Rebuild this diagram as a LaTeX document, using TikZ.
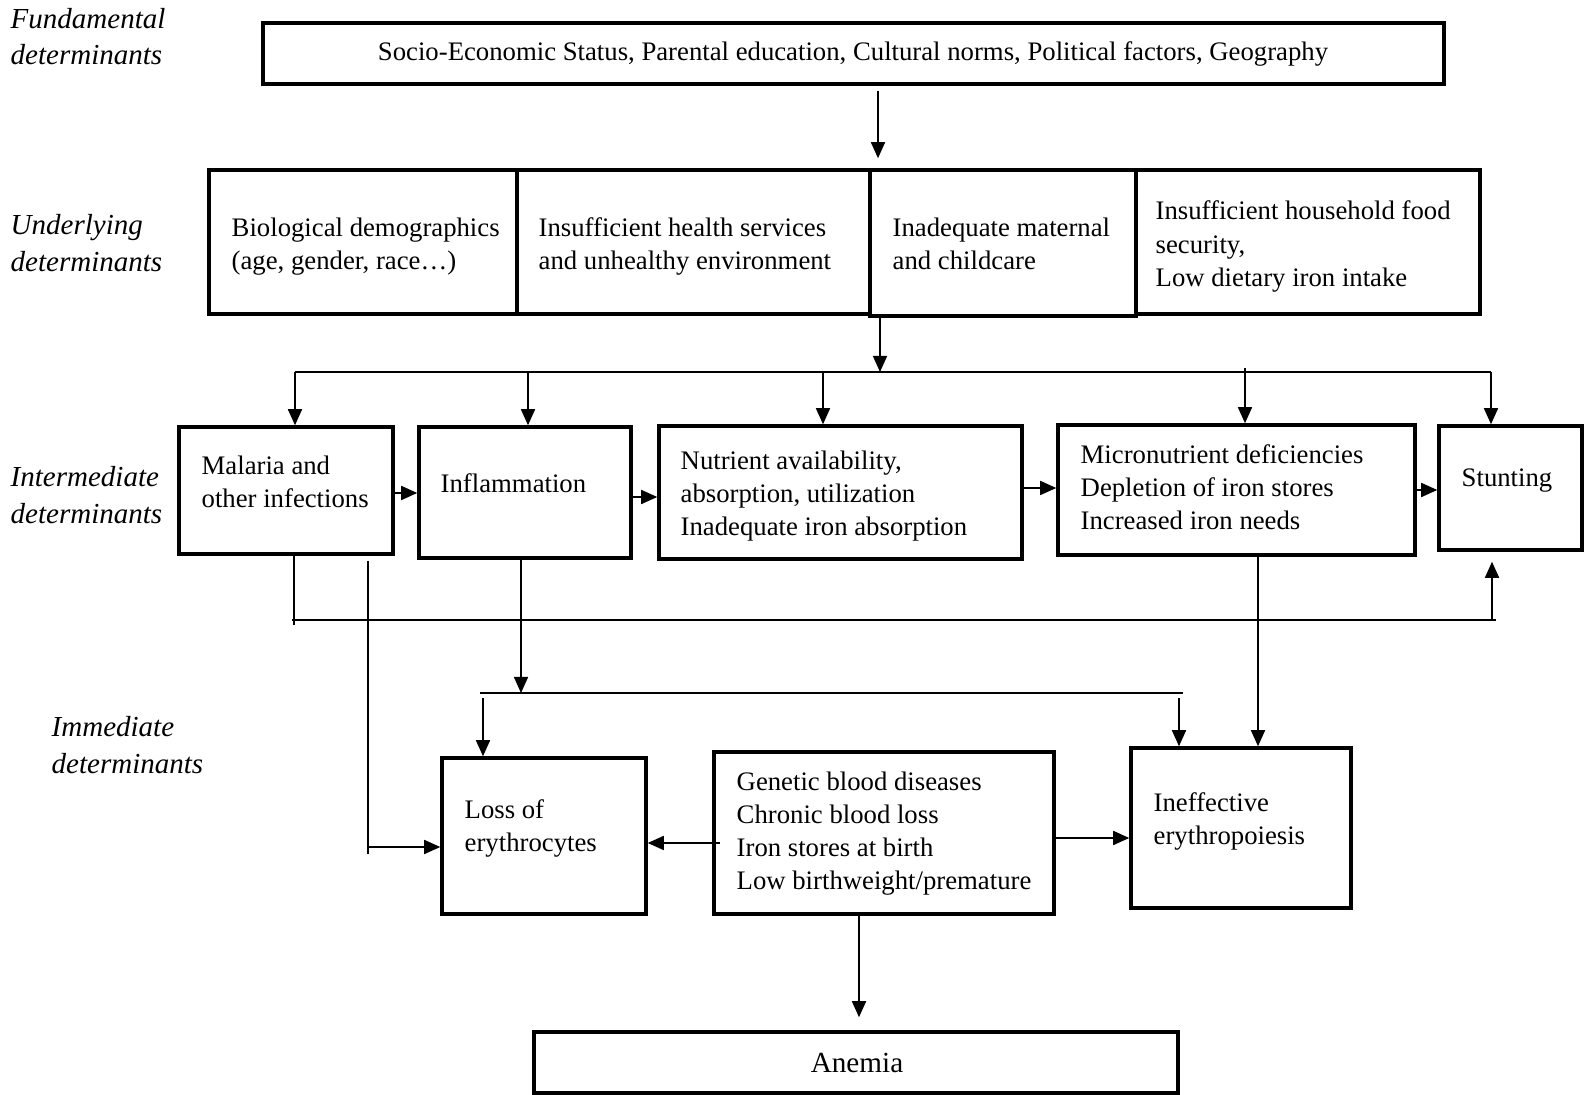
\documentclass[tikz,border=0pt]{standalone}
\usepackage{fontspec}
\setmainfont{Liberation Serif}
\usetikzlibrary{arrows.meta,fit,calc}
\begin{document}
\begin{tikzpicture}[x=0.01cm,y=-0.01cm,
  box/.style={draw, line width=1pt, inner sep=0pt},
  txt/.style={inner sep=0pt, anchor=west, align=left, font=\fontsize{7.6pt}{9.39pt}\selectfont},
  lab/.style={inner sep=0pt, anchor=west, align=left, font=\fontsize{8.25pt}{10.4pt}\selectfont\itshape},
  conn/.style={line width=0.45pt},
  arr/.style={conn, -{Triangle[length=0.16cm,width=0.14cm]}}]
\fill[white] (0,0) rectangle (1590,1095);
\useasboundingbox (0,0) rectangle (1590,1095);

% level labels
\node[lab] (lfund) at (10,36.5) {Fundamental\\determinants};
\node[lab] (lund) at (10,243) {Underlying\\determinants};
\node[lab] (lint) at (10,495) {Intermediate\\determinants};
\node[lab] (limm) at (51,745) {Immediate\\determinants};

% boxes
\node[box, fit={(263,23) (1444,84)}] (fund) {};
\node[box, fit={(209,170) (517,314)}] (und1) {};
\node[box, fit={(517,170) (870,314)}] (und2) {};
\node[box, fit={(870,170) (1136,316)}] (und3) {};
\node[box, fit={(1136,170) (1480,314)}] (und4) {};
\node[box, fit={(179,427) (393,554)}] (mal) {};
\node[box, fit={(419,427) (631,558)}] (inf) {};
\node[box, fit={(659,426) (1022,559)}] (nut) {};
\node[box, fit={(1058,425) (1415,555)}] (mic) {};
\node[box, fit={(1439,426) (1582,550)}] (stu) {};
\node[box, fit={(442,758) (646,914)}] (loss) {};
\node[box, fit={(714,752) (1054,914)}] (gen) {};
\node[box, fit={(1131,748) (1351,908)}] (ineff) {};
\node[box, fit={(534,1032) (1178,1093)}] (anem) {};

% texts
\node[txt, anchor=center] (tfund) at (853,54) {Socio-Economic Status, Parental education, Cultural norms, Political factors, Geography};
\node[txt] (tund1) at (231,246.5) {Biological demographics\\(age, gender, race…)};
\node[txt] (tund2) at (538,246.5) {Insufficient health services\\and unhealthy environment};
\node[txt] (tund3) at (892,243.5) {Inadequate maternal\\and childcare};
\node[txt] (tund4) at (1155,246.5) {Insufficient household food\\security,\\Low dietary iron intake};
\node[txt] (tmal) at (201,481.5) {Malaria and\\other infections};
\node[txt] (tinf) at (440,483) {Inflammation};
\node[txt] (tnut) at (680,496) {Nutrient availability,\\absorption, utilization\\Inadequate iron absorption};
\node[txt] (tmic) at (1080,487) {Micronutrient deficiencies\\Depletion of iron stores\\Increased iron needs};
\node[txt] (tstu) at (1461,481) {Stunting};
\node[txt] (tloss) at (464,828) {Loss of\\erythrocytes};
\node[txt] (tgen) at (736,834) {Genetic blood diseases\\Chronic blood loss\\Iron stores at birth\\Low birthweight/premature};
\node[txt] (tineff) at (1153,821) {Ineffective\\erythropoiesis};
\node[txt, anchor=center, font=\fontsize{8.3pt}{10pt}\selectfont] (tanem) at (857,1063) {Anemia};

% helper coordinates
\coordinate (c878) at (878,0);
\coordinate (b1c) at (880,372);
\coordinate (b1l) at (295,372);
\coordinate (b1r) at (1491,372);
\coordinate (b1b) at (528,372);
\coordinate (b1n) at (823,372);
\coordinate (b1m) at (1245,368);
\coordinate (l1) at (294,625);
\coordinate (l2) at (292,620);
\coordinate (l3) at (1496,620);
\coordinate (l4) at (1492,620);
\coordinate (m1) at (368,854);
\coordinate (m2) at (368,847);
\coordinate (b2i) at (521,693);
\coordinate (b2l) at (480,693);
\coordinate (b2r) at (1183,693);
\coordinate (d1) at (483,698);
\coordinate (d2) at (1179,698);
\coordinate (c1258) at (1258,0);
\coordinate (g1) at (720,843);
\coordinate (g2) at (1054,838);
\coordinate (g3) at (859,0);

% connectors
\draw[arr, shorten >=0.1cm] ([yshift=-0.05cm]fund.south -| c878) -- (und3.north -| c878);
\draw[arr] (und3.south -| b1c) -- (b1c);
\draw[conn] (b1l) -- (b1r);
\draw[arr] (b1l) -- (mal.north -| b1l);
\draw[arr] (b1b) -- (inf.north -| b1b);
\draw[arr] (b1n) -- (nut.north -| b1n);
\draw[arr] (b1m) -- (mic.north -| b1m);
\draw[arr] (b1r) -- (stu.north -| b1r);

\draw[arr] ([yshift=-0.025cm]mal.east) -- ([yshift=-0.025cm]mal.east -| inf.west);
\draw[arr] ([yshift=-0.045cm]inf.east) -- ([yshift=-0.045cm]inf.east -| nut.west);
\draw[arr] ([yshift=0.045cm]nut.east) -- ([yshift=0.045cm]nut.east -| mic.west);
\draw[arr] (mic.east) -- (mic.east -| stu.west);

\draw[conn] (mal.south -| l1) -- (l1);
\draw[conn] (l2) -- (l3);
\draw[arr, shorten >=0.1cm] (l4) -- (stu.south -| l4);

\draw[conn] ([yshift=-0.05cm]mal.south -| m1) -- (m1);
\draw[arr] (m2) -- (loss.west |- m2);

\draw[arr] (inf.south -| b2i) -- (b2i);
\draw[conn] (b2l) -- (b2r);
\draw[arr] (d1) -- (loss.north -| d1);
\draw[arr] (d2) -- (ineff.north -| d2);
\draw[arr] (mic.south -| c1258) -- (ineff.north -| c1258);

\draw[arr] (g1) -- (loss.east |- g1);
\draw[arr] (gen.east |- g2) -- (ineff.west |- g2);
\draw[arr, shorten >=0.13cm] (gen.south -| g3) -- (anem.north -| g3);
\end{tikzpicture}
\end{document}
